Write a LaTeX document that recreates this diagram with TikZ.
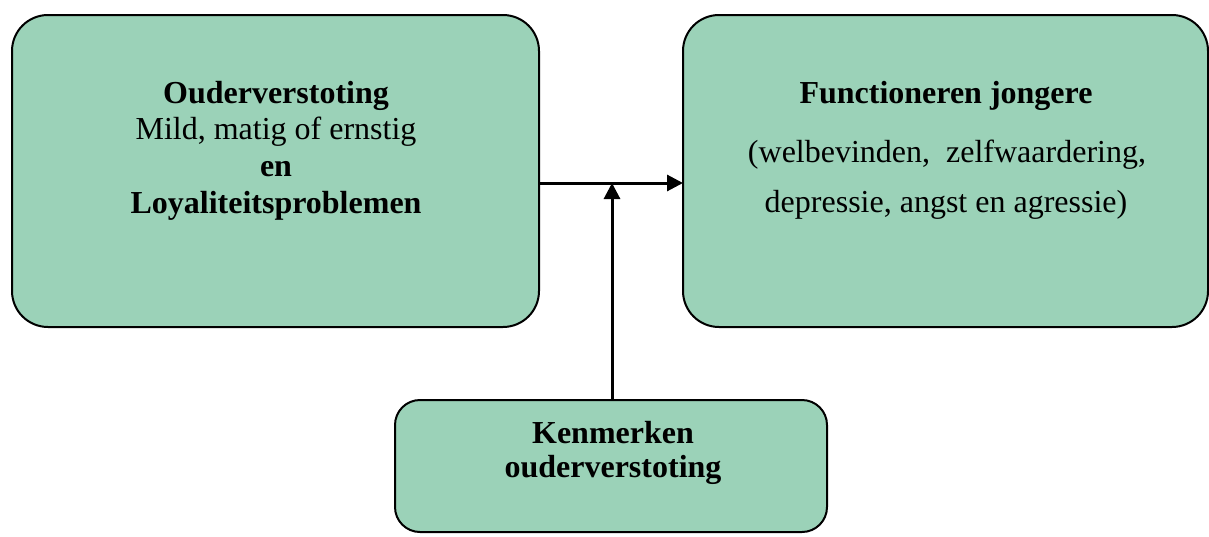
\documentclass[tikz,border=0pt]{standalone}
\usepackage{fontspec}
\setmainfont{Liberation Serif}
\usetikzlibrary{arrows.meta}
\definecolor{boxgreen}{RGB}{155,210,184}
\tikzset{
  boxbig/.style={draw=black, line width=2pt, fill=boxgreen, rounded corners=36pt, outer sep=0pt, inner sep=0pt},
  boxsmall/.style={draw=black, line width=2pt, fill=boxgreen, rounded corners=25pt, outer sep=0pt, inner sep=0pt},
  txt/.style={anchor=base, inner sep=0pt, font=\fontsize{32}{36}\selectfont},
  arr/.style={line width=3pt, -{Triangle[length=16pt,width=16pt]}}
}
\begin{document}
\begin{tikzpicture}[x=1pt,y=-1pt]
\useasboundingbox (0,0) rectangle (1209,536);
\node[boxbig, minimum width=527pt, minimum height=312pt] (lbox) at (275.5,171) {};
\node[boxbig, minimum width=525pt, minimum height=312pt] (rbox) at (945.5,171) {};
\node[boxsmall, minimum width=432pt, minimum height=132pt] (bbox) at (611,466) {};
% left text
\node[txt] (l1) at (276,103) {\bfseries Ouderverstoting};
\node[txt] (l2) at (276,139) {Mild, matig of ernstig};
\node[txt] (l3) at (276,176) {\bfseries en};
\node[txt] (l4) at (276,213) {\bfseries Loyaliteitsproblemen};
% right text
\node[txt] (r1) at (946,103) {\bfseries Functioneren jongere};
\node[txt] (r2) at (947,162) {(welbevinden,\ \ zelfwaardering,};
\node[txt] (r3) at (946,212) {depressie, angst en agressie)};
% bottom text
\node[txt] (b1) at (613,443) {\bfseries Kenmerken};
\node[txt] (b2) at (613,477) {\bfseries ouderverstoting};
% connectors
\coordinate (j) at (612,183);
\draw[arr] (lbox.east |- j) -- (rbox.west |- j);
\draw[arr] (bbox.north -| j) -- (j);
\end{tikzpicture}
\end{document}
